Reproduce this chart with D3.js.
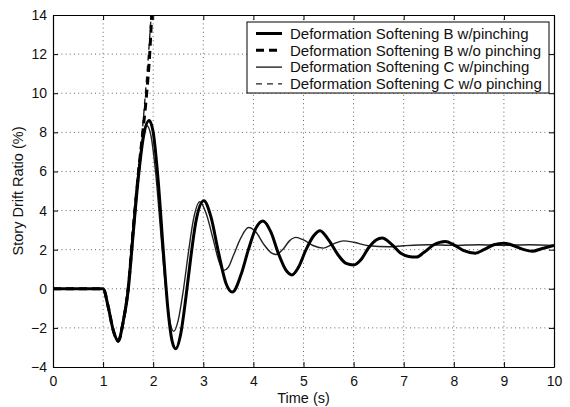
<!DOCTYPE html>
<html>
<head>
<meta charset="utf-8">
<script src="https://cdn.jsdelivr.net/npm/d3@7"></script>
<style>
  html, body { margin: 0; padding: 0; background: #fff; }
  svg { display: block; font-family: "Liberation Sans", Arial, sans-serif; }
</style>
</head>
<body>
<svg id="chart" width="570" height="407"></svg>
<script>
// ---- Data ----
const xTicks = [0, 1, 2, 3, 4, 5, 6, 7, 8, 9, 10];
const yTicks = [-4, -2, 0, 2, 4, 6, 8, 10, 12, 14];

const seriesNames = [
  "Deformation Softening B w/pinching",
  "Deformation Softening B w/o pinching",
  "Deformation Softening C w/pinching",
  "Deformation Softening C w/o pinching"
];

// time (s), drift ratio (%)
const bPinchT = [0, 1.0, 1.1, 1.2, 1.3, 1.4, 1.5, 1.6, 1.7, 1.8, 1.92, 2.0, 2.1, 2.2, 2.3, 2.38, 2.45, 2.55, 2.65, 2.75, 2.85, 3.01, 3.15, 3.3, 3.45, 3.58, 3.75, 3.9, 4.05, 4.19, 4.35, 4.5, 4.65, 4.77, 4.9, 5.05, 5.2, 5.33, 5.5, 5.7, 5.85, 6.0, 6.15, 6.3, 6.45, 6.57, 6.75, 6.95, 7.1, 7.25, 7.4, 7.6, 7.83, 8.0, 8.2, 8.43, 8.6, 8.8, 9.0, 9.2, 9.4, 9.57, 9.75, 10];
const bPinchY = [0, 0, -0.9, -2.1, -2.68, -1.7, -0.1, 2.8, 5.6, 7.7, 8.6, 8.0, 5.5, 2.0, -1.2, -2.7, -3.07, -2.3, -0.5, 1.6, 3.4, 4.5, 3.7, 1.9, 0.3, -0.17, 0.7, 2.0, 3.1, 3.47, 2.9, 1.8, 0.95, 0.71, 1.1, 2.0, 2.7, 2.97, 2.5, 1.7, 1.3, 1.22, 1.5, 2.1, 2.5, 2.6, 2.3, 1.8, 1.65, 1.62, 1.85, 2.25, 2.42, 2.25, 1.95, 1.82, 2.0, 2.25, 2.33, 2.2, 2.0, 1.92, 2.05, 2.22];

const bNoPinchT = [0, 1.0, 1.1, 1.2, 1.3, 1.4, 1.5, 1.6, 1.7, 1.8, 1.87, 1.93, 1.97];
const bNoPinchY = [0, 0, -0.9, -2.1, -2.68, -1.7, 0.0, 3.0, 5.8, 8.2, 10.0, 12.0, 14.0];

const cPinchT = [0, 1.0, 1.1, 1.2, 1.3, 1.4, 1.5, 1.6, 1.7, 1.8, 1.87, 1.95, 2.05, 2.15, 2.25, 2.33, 2.41, 2.5, 2.6, 2.7, 2.8, 2.93, 3.05, 3.2, 3.3, 3.4, 3.5, 3.6, 3.75, 3.9, 4.05, 4.2, 4.35, 4.45, 4.6, 4.72, 4.85, 5.0, 5.2, 5.4, 5.6, 5.8, 6.0, 6.3, 6.7, 7.0, 7.5, 8.0, 8.5, 9.0, 9.5, 10];
const cPinchY = [0, 0, -0.9, -2.05, -2.6, -1.6, 0.3, 3.3, 6.0, 7.9, 8.35, 7.9, 5.9, 2.9, 0.0, -1.6, -2.18, -1.6, -0.1, 1.8, 3.5, 4.45, 3.9, 2.5, 1.5, 0.93, 1.1, 1.7, 2.6, 3.13, 2.9, 2.3, 1.85, 1.75, 2.05, 2.45, 2.63, 2.5, 2.2, 2.08, 2.3, 2.45, 2.38, 2.2, 2.15, 2.2, 2.25, 2.22, 2.25, 2.22, 2.25, 2.22];

const cNoPinchT = [0, 1.0, 1.1, 1.2, 1.3, 1.4, 1.5, 1.6, 1.7, 1.78, 1.86, 1.92, 1.96];
const cNoPinchY = [0, 0, -0.9, -2.05, -2.6, -1.6, 0.2, 3.3, 6.0, 8.0, 10.5, 12.5, 14.0];

const xLabel = "Time (s)";
const yLabel = "Story Drift Ratio (%)";

// ---- Layout ----
const svg = d3.select("#chart");
const margin = { left: 53, right: 16, top: 15, bottom: 40 };
const W = 570, H = 407;
const x = d3.scaleLinear().domain([0, 10]).range([margin.left, W - margin.right]);
const y = d3.scaleLinear().domain([-4, 14]).range([H - margin.bottom, margin.top]);

svg.append("rect").attr("width", W).attr("height", H).attr("fill", "#fff");

// clip
svg.append("clipPath").attr("id", "clip")
  .append("rect")
  .attr("x", x(0)).attr("y", y(14))
  .attr("width", x(10) - x(0)).attr("height", y(-4) - y(14));

// grid
const grid = svg.append("g").attr("stroke", "#666").attr("stroke-width", 1)
  .attr("stroke-dasharray", "1,3.2");
xTicks.slice(1, -1).forEach(t => {
  grid.append("line").attr("x1", x(t)).attr("x2", x(t))
    .attr("y1", y(14)).attr("y2", y(-4));
});
yTicks.slice(1, -1).forEach(v => {
  grid.append("line").attr("x1", x(0)).attr("x2", x(10))
    .attr("y1", y(v)).attr("y2", y(v));
});

// axes (MATLAB style: ticks inside, on all four sides)
const tickLen = 5;
const fontTick = 14;
const axB = svg.append("g").attr("transform", `translate(0,${y(-4)})`)
  .call(d3.axisBottom(x).tickValues(xTicks).tickSizeInner(-tickLen).tickSizeOuter(0).tickPadding(9));
const axT = svg.append("g").attr("transform", `translate(0,${y(14)})`)
  .call(d3.axisTop(x).tickValues(xTicks).tickSizeInner(-tickLen).tickSizeOuter(0).tickFormat(""));
const axL = svg.append("g").attr("transform", `translate(${x(0)},0)`)
  .call(d3.axisLeft(y).tickValues(yTicks).tickSizeInner(-tickLen).tickSizeOuter(0).tickPadding(6)
    .tickFormat(d => d < 0 ? "\u2212" + Math.abs(d) : d));
const axR = svg.append("g").attr("transform", `translate(${x(10)},0)`)
  .call(d3.axisRight(y).tickValues(yTicks).tickSizeInner(-tickLen).tickSizeOuter(0).tickFormat(""));

[axB, axT, axL, axR].forEach(a => {
  a.select(".domain").attr("stroke", "#000").attr("stroke-width", 1.2);
  a.selectAll(".tick line").attr("stroke", "#000").attr("stroke-width", 1);
  a.selectAll(".tick text").attr("fill", "#111").attr("font-size", fontTick)
    .attr("font-family", "'Liberation Sans', Arial, sans-serif");
});

// lines
const line = d3.line().x(d => x(d[0])).y(d => y(d[1])).curve(d3.curveMonotoneX);
const zip = (a, b) => a.map((v, i) => [v, b[i]]);

const series = [
  { name: seriesNames[2], data: zip(cPinchT, cPinchY), w: 1.4, dash: null, color: "#222" },
  { name: seriesNames[3], data: zip(cNoPinchT, cNoPinchY), w: 1.4, dash: "6,5", color: "#222" },
  { name: seriesNames[0], data: zip(bPinchT, bPinchY), w: 3, dash: null, color: "#000" },
  { name: seriesNames[1], data: zip(bNoPinchT, bNoPinchY), w: 3, dash: "8,5", color: "#000" }
];

const plot = svg.append("g").attr("clip-path", "url(#clip)");
series.forEach(s => {
  plot.append("path").datum(s.data)
    .attr("d", line)
    .attr("fill", "none")
    .attr("stroke", s.color)
    .attr("stroke-width", s.w)
    .attr("stroke-linejoin", "round")
    .attr("stroke-dasharray", s.dash);
});

// axis labels
svg.append("text").attr("x", (x(0) + x(10)) / 2).attr("y", 403)
  .attr("text-anchor", "middle").attr("font-size", 14.5).attr("fill", "#111")
  .text(xLabel);
svg.append("text")
  .attr("transform", `translate(23,${(y(-4) + y(14)) / 2}) rotate(-90)`)
  .attr("text-anchor", "middle").attr("font-size", 14.5).attr("fill", "#111")
  .text(yLabel);

// legend
const legItems = [
  { name: seriesNames[0], w: 3, dash: null, color: "#000" },
  { name: seriesNames[1], w: 3, dash: "8,5", color: "#000" },
  { name: seriesNames[2], w: 1.4, dash: null, color: "#222" },
  { name: seriesNames[3], w: 1.4, dash: "6,5", color: "#222" }
];
const leg = svg.append("g");
leg.append("rect").attr("x", 247).attr("y", 22).attr("width", 302).attr("height", 71)
  .attr("fill", "#fff").attr("stroke", "#000").attr("stroke-width", 1);
legItems.forEach((it, i) => {
  const cy = 33.5 + i * 16.8;
  leg.append("line").attr("x1", 256).attr("x2", 282).attr("y1", cy).attr("y2", cy)
    .attr("stroke", it.color).attr("stroke-width", it.w).attr("stroke-dasharray", it.dash);
  leg.append("text").attr("x", 290).attr("y", cy + 5.2).attr("font-size", 15)
    .attr("fill", "#111").text(it.name);
});
</script>
</body>
</html>
